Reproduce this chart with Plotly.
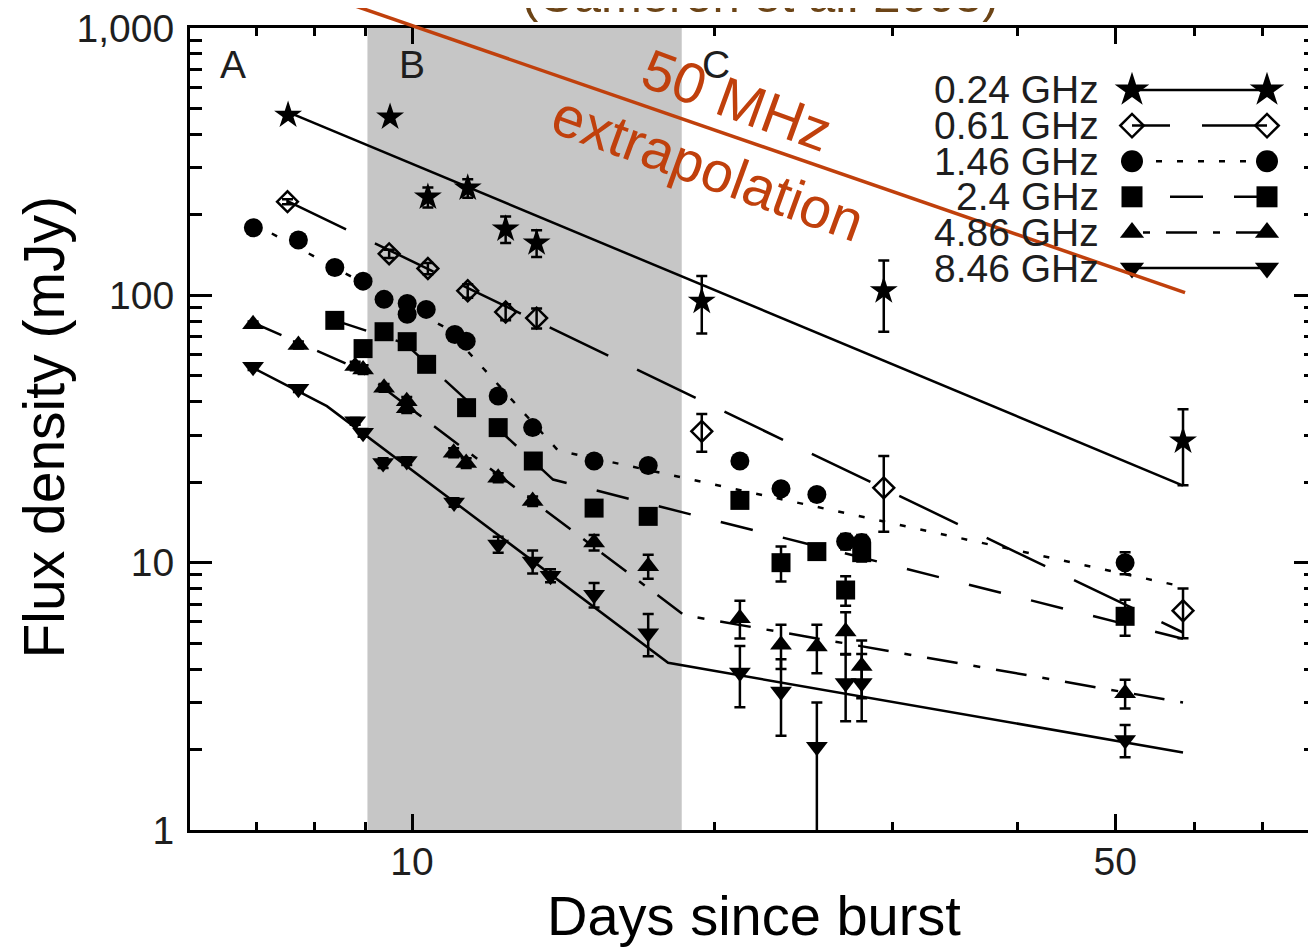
import math
import plotly.graph_objects as go

# ---------------- data (days since burst, flux density in mJy) ----------------
days_024 = [7.53, 9.51, 10.37, 11.36, 12.39, 13.30, 19.41, 29.44, 58.4]
flux_024 = [472, 464, 233, 252, 177, 157, 95, 104, 28.5]
err_024 = [0, 0, 20, 20, 20, 18, 23, 31, 9]

days_061 = [7.52, 9.49, 10.37, 11.36, 12.39, 13.30, 19.41, 29.44, 58.4]
flux_061 = [224, 143, 126, 104, 86.6, 82.2, 31.0, 19.05, 6.61]
err_061 = [5, 5, 6, 6, 6, 7, 5, 6, 1.4]

days_146 = [6.955, 7.71, 8.38, 8.94, 9.38, 9.89, 9.89, 10.33, 11.03, 11.32,
            12.18, 13.18, 15.17, 17.17, 21.18, 23.27, 25.26, 26.98, 27.99, 51.15]
flux_146 = [179, 161, 127, 113, 96.6, 93.3, 84.9, 88.6, 71.4, 67.4,
            42.0, 32.0, 24.0, 23.1, 24.0, 18.9, 18.0, 12.0, 11.9, 10.0]
err_146 = [3, 3, 3, 3, 3, 3, 3, 3, 2, 2, 1.5, 1.5, 1, 1, 1, 0.8, 0.8, 0.8, 0.8, 0.95]

days_240 = [8.38, 8.94, 9.38, 9.89, 10.34, 11.33, 12.18, 13.20, 15.17, 17.17,
            21.18, 23.27, 25.26, 26.98, 27.99, 51.15]
flux_240 = [80.6, 63.2, 73.1, 67.1, 55.2, 38.0, 32.0, 24.0, 16.0, 14.9,
            17.1, 10.0, 11.0, 7.9, 10.9, 6.3]
err_240 = [2, 2, 2, 2, 1.5, 1, 1, 0.8, 0.6, 0.6, 0.6, 1.5, 0.7, 1.0, 0.8, 0.97]

days_486 = [6.95, 7.71, 8.78, 8.94, 9.38, 9.88, 9.88, 11.00, 11.32, 12.18,
            13.18, 15.17, 17.17, 21.18, 23.27, 25.26, 26.98, 27.99, 51.15]
flux_486 = [77.9, 65.2, 54.4, 52.8, 45.1, 40.2, 37.8, 25.8, 23.6, 20.8,
            17.0, 11.9, 9.7, 6.2, 4.93, 4.86, 5.53, 4.11, 3.25]
err_486 = [2, 2, 2, 2, 1.5, 1.5, 1.5, 1, 1, 0.8, 0.7, 0.8, 1.0, 1.0, 0.93, 1.0, 1.0, 1.0, 0.4]

days_846 = [6.95, 7.71, 8.78, 8.94, 9.36, 9.88, 11.01, 12.18, 13.18, 13.73,
            15.17, 17.17, 21.18, 23.27, 25.26, 26.98, 27.99, 51.15]
flux_846 = [54.1, 44.7, 33.8, 30.6, 23.6, 24.0, 16.8, 11.7, 10.1, 8.94,
            7.59, 5.45, 3.88, 3.30, 2.05, 3.55, 3.55, 2.17]
errp_846 = [1.5, 1.2, 1, 1, 1, 0.8, 0.6, 0.8, 1.0, 0.5, 0.8, 0.98, 1.0, 1.05, 0.95, 1.0, 1.0, 0.3]
errm_846 = [1.5, 1.2, 1, 1, 1, 0.8, 0.6, 0.8, 1.0, 0.5, 0.8, 0.98, 1.0, 1.05, 1.2, 1.0, 1.0, 0.3]

# broken power-law model curves (vertices)
fit_days_024 = [7.53, 58.4]
fit_flux_024 = [484.6, 19.43]
fit_days_061 = [7.52, 58.4]
fit_flux_061 = [224.9, 5.48]
fit_days_146 = [6.955, 10.83, 13.97, 58.4]
fit_flux_146 = [185.7, 75.2, 26.28, 8.13]
fit_days_240 = [8.38, 9.84, 13.81, 58.4]
fit_flux_240 = [80.6, 66.1, 20.46, 5.19]
fit_days_486 = [6.95, 8.84, 18.64, 58.4]
fit_flux_486 = [79.0, 53.1, 6.36, 3.0]
fit_days_846 = [6.94, 8.23, 17.97, 58.4]
fit_flux_846 = [53.7, 38.5, 4.22, 1.95]

# 50 MHz extrapolation line
extrap_days = [7.0, 58.67]
extrap_flux = [1623, 102.4]

# shaded epoch B and epoch labels
band_days = [9.03, 18.54]
epoch_labels = ["A", "B", "C"]
epoch_days = [6.64, 10.0, 20.04]
epoch_flux = 733

series_names = ["0.24 GHz", "0.61 GHz", "1.46 GHz", "2.4 GHz", "4.86 GHz", "8.46 GHz"]

y_tickvals = [1, 10, 100, 1000]
y_ticktext = ["1", "10", "100", "1,000"]
y_minor = [m * 10 ** k for k in range(3) for m in range(2, 10)]
x_tickvals = [10, 50]
x_ticktext = ["10", "50"]
x_minor = [7, 8, 9, 20, 30, 40, 60, 70]

# ---------------- styling / layout ----------------
FONT = "Liberation Sans, Arial, Helvetica, sans-serif"
PAGE_OFF = 8                      # default body margin of the html page
SX0, SX1, SY0, SY1 = 190, 1316, 28, 830   # plot area on screen
PW, PH = SX1 - SX0, SY1 - SY0
ML, MT = SX0 - PAGE_OFF, SY0 - PAGE_OFF
MR, MB = 0, 118
W, H = ML + PW + MR, MT + PH + MB
X_RANGE = [0.7793, 1.8986]
Y_RANGE = [0.0, 3.0]
RED = "#c0400c"
BROWN = "#6c4416"
INK = "#1e1e1e"


def px(sx):
    return (sx - SX0) / PW


def py(sy):
    return (SY1 - sy) / PH


styles = [
    dict(symbol="star", size=21, lsize=26, dash="solid"),
    dict(symbol="diamond-open", size=16, lsize=18, dash="65px,32px"),
    dict(symbol="circle", size=19, lsize=22, dash="6px,15px"),
    dict(symbol="square", size=19, lsize=21, dash="33px,31px"),
    dict(symbol="triangle-up", size=19, lsize=21, dash="31px,16px,7px,16px"),
    dict(symbol="triangle-down", size=19, lsize=21, dash="solid"),
]

data_sets = [
    (days_024, flux_024, err_024, err_024, fit_days_024, fit_flux_024),
    (days_061, flux_061, err_061, err_061, fit_days_061, fit_flux_061),
    (days_146, flux_146, err_146, err_146, fit_days_146, fit_flux_146),
    (days_240, flux_240, err_240, err_240, fit_days_240, fit_flux_240),
    (days_486, flux_486, err_486, err_486, fit_days_486, fit_flux_486),
    (days_846, flux_846, errp_846, errm_846, fit_days_846, fit_flux_846),
]

fig = go.Figure()

# model curves first (under markers)
for (d, f, ep, em, fd, ff), st in zip(data_sets, styles):
    fig.add_trace(go.Scatter(x=fd, y=ff, mode="lines",
                             line=dict(color="black", width=2.5, dash=st["dash"]),
                             hoverinfo="skip", showlegend=False))

# data points with error bars
for (d, f, ep, em, fd, ff), st, name in zip(data_sets, styles, series_names):
    marker = dict(symbol=st["symbol"], size=st["size"], color="black")
    if st["symbol"].endswith("-open"):
        marker["line"] = dict(width=2.5, color="black")
    else:
        marker["line"] = dict(width=0)
    fig.add_trace(go.Scatter(
        x=d, y=f, mode="markers", name=name, marker=marker,
        error_y=dict(type="data", symmetric=False, array=ep, arrayminus=em,
                     color="black", thickness=2.5, width=5.5),
        showlegend=False))

# empty trace to carry the right-hand tick axis
fig.add_trace(go.Scatter(x=[], y=[], xaxis="x", yaxis="y2", showlegend=False, hoverinfo="skip"))

# ---------------- hand-made legend in a screen-pixel overlay ----------------
LEG_X = [1267, 1132]          # drawn right-to-left so the dash phase matches
LEG_Y0, LEG_DY = 90, 35.6
LEG_TEXT_X = 1101
for i, (st, name) in enumerate(zip(styles, series_names)):
    yy = LEG_Y0 + i * LEG_DY
    marker = dict(symbol=st["symbol"], size=st["lsize"], color="black")
    if st["symbol"].endswith("-open"):
        marker["line"] = dict(width=2.5, color="black")
    fig.add_trace(go.Scatter(x=LEG_X, y=[yy, yy], mode="lines+markers",
                             line=dict(color="black", width=2.5, dash=st["dash"]),
                             marker=marker, xaxis="x2", yaxis="y3",
                             showlegend=False, hoverinfo="skip"))
    fig.add_annotation(x=px(LEG_TEXT_X), y=py(yy), xref="paper", yref="paper",
                       text=name, showarrow=False, xanchor="right", yanchor="middle",
                       font=dict(family=FONT, size=39, color=INK))

# ---------------- shapes ----------------
fig.add_shape(type="rect", xref="x", yref="paper", x0=band_days[0], x1=band_days[1],
              y0=0, y1=1, fillcolor="#c6c6c6", line_width=0, layer="below")


def xdom(d):
    return (math.log10(d) - X_RANGE[0]) / (X_RANGE[1] - X_RANGE[0])


def ydom(f):
    return (math.log10(f) - Y_RANGE[0]) / (Y_RANGE[1] - Y_RANGE[0])


fig.add_shape(type="line", xref="x domain", yref="y domain",
              x0=xdom(extrap_days[0]), y0=ydom(extrap_flux[0]),
              x1=xdom(extrap_days[1]), y1=ydom(extrap_flux[1]),
              line=dict(color=RED, width=3.5), layer="above")

# ---------------- text ----------------
for lab, dd in zip(epoch_labels, epoch_days):
    fig.add_annotation(x=math.log10(dd), y=math.log10(epoch_flux), xref="x", yref="y",
                       text=lab, showarrow=False, xanchor="center", yanchor="middle",
                       font=dict(family=FONT, size=39, color=INK))

fig.add_annotation(x=px(737), y=py(100), xref="paper", yref="paper",
                   text="50 MHz", showarrow=False, textangle=20,
                   xanchor="center", yanchor="middle",
                   font=dict(family=FONT, size=57, color=RED))
fig.add_annotation(x=px(708), y=py(168), xref="paper", yref="paper",
                   text="extrapolation", showarrow=False, textangle=20,
                   xanchor="center", yanchor="middle",
                   font=dict(family=FONT, size=57, color=RED))
fig.add_annotation(x=px(760), y=py(-5), xref="paper", yref="paper",
                   text="(Cameron et al. 2005)", showarrow=False, xanchor="center", yanchor="middle",
                   font=dict(family=FONT, size=49, color=BROWN))
fig.add_annotation(x=px(754), y=py(915.6), xref="paper", yref="paper",
                   text="Days since burst", showarrow=False, xanchor="center", yanchor="middle",
                   font=dict(family=FONT, size=56, color="black"))
fig.add_annotation(x=px(43), y=py(427.5), xref="paper", yref="paper",
                   text="Flux density (mJy)", showarrow=False, textangle=-90,
                   xanchor="center", yanchor="middle",
                   font=dict(family=FONT, size=57, color="black"))

# ---------------- axes ----------------
common_y = dict(type="log", range=Y_RANGE, tickmode="array", tickvals=y_tickvals,
                ticks="inside", ticklen=22, tickwidth=2.8, tickcolor="black",
                minor=dict(tickmode="array", tickvals=y_minor, ticks="inside",
                           ticklen=12, tickwidth=2.8, tickcolor="black", showgrid=False),
                showgrid=False, zeroline=False)

fig.update_layout(
    width=W, height=H,
    margin=dict(l=ML, r=MR, t=MT, b=MB, autoexpand=False),
    paper_bgcolor="white", plot_bgcolor="white",
    showlegend=False,
    font=dict(family=FONT, color=INK),
    xaxis=dict(type="log", range=X_RANGE, tickmode="array", tickvals=x_tickvals,
               ticktext=x_ticktext, ticks="inside", ticklen=16, tickwidth=2.8,
               tickcolor="black", showline=True, linewidth=3, linecolor="black",
               mirror="ticks", showgrid=False, zeroline=False,
               tickfont=dict(family=FONT, size=39, color=INK), ticklabelstandoff=-5,
               ticklabeloverflow="allow",
               minor=dict(tickmode="array", tickvals=x_minor, ticks="inside",
                          ticklen=8, tickwidth=2.8, tickcolor="black", showgrid=False)),
    yaxis=dict(**common_y, ticktext=y_ticktext, showline=True, linewidth=3,
               linecolor="black", mirror=False, ticklabeloverflow="allow",
               tickfont=dict(family=FONT, size=39, color=INK), ticklabelstandoff=5),
    yaxis2=dict(**common_y, overlaying="y", side="right", anchor="x",
                showticklabels=False, showline=False),
    xaxis2=dict(overlaying="x", range=[SX0, SX1], visible=False, anchor="y3"),
    yaxis3=dict(overlaying="y", range=[SY1, SY0], visible=False, anchor="x2"),
)

fig.write_html("out.html")
